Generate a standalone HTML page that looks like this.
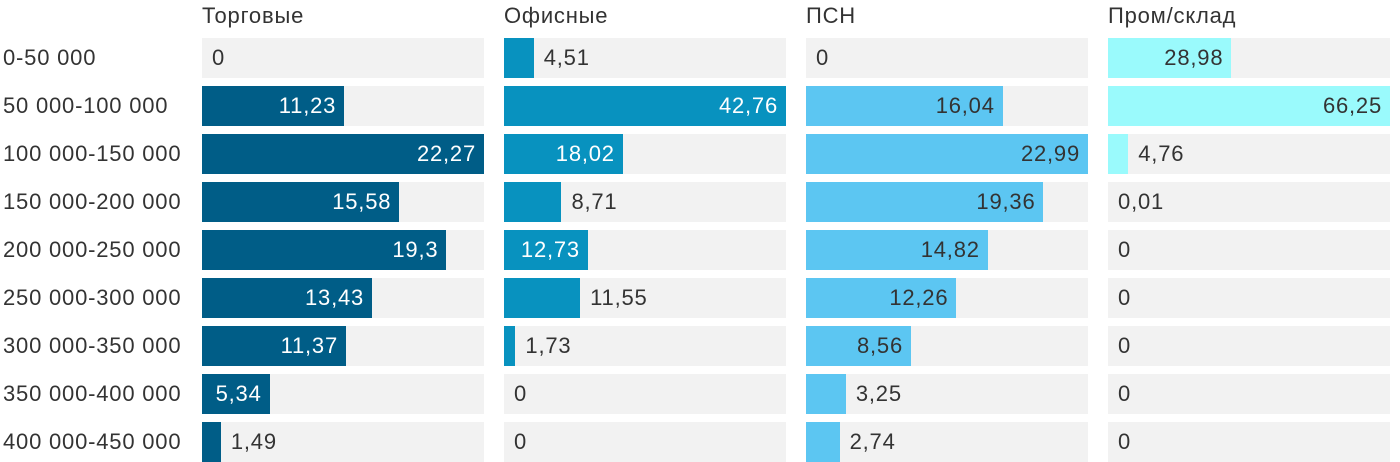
<!DOCTYPE html>
<html><head><meta charset="utf-8"><style>
body{margin:0;width:1400px;height:462px;background:#fff;font-family:"Liberation Sans",sans-serif;overflow:hidden;position:relative}
.t{position:absolute;font-size:22px;letter-spacing:0.8px;color:#333;white-space:nowrap;line-height:40px}
.h{position:absolute;font-size:22px;letter-spacing:0.8px;color:#333;top:1px;line-height:30px}
.tr{position:absolute;background:#f2f2f2;height:40px}
.b{position:absolute;left:0;top:0;height:40px}
</style></head><body>
<div id="root"></div>
<script>
const categories=["0-50 000","50 000-100 000","100 000-150 000","150 000-200 000","200 000-250 000","250 000-300 000","300 000-350 000","350 000-400 000","400 000-450 000"];
const panelTitles=["Торговые","Офисные","ПСН","Пром/склад"];
const seriesTrade=[0,11.23,22.27,15.58,19.3,13.43,11.37,5.34,1.49];
const seriesOffice=[4.51,42.76,18.02,8.71,12.73,11.55,1.73,0,0];
const seriesPsn=[0,16.04,22.99,19.36,14.82,12.26,8.56,3.25,2.74];
const seriesInd=[28.98,66.25,4.76,0.01,0,0,0,0,0];
const series=[seriesTrade,seriesOffice,seriesPsn,seriesInd];
const colors=["#005d87","#0892bf","#5cc6f2","#9afafc"];
const insideText=["#fff","#fff","#333","#333"];
const panelX=[202,504,806,1108],W=282,rowY0=38,rowStep=48;
const root=document.getElementById('root');
categories.forEach((c,i)=>{
 const d=document.createElement('div');d.className='t';d.style.left='3px';d.style.top=(rowY0+i*rowStep)+'px';d.textContent=c;
 
 
 root.appendChild(d);
});
series.forEach((vals,p)=>{
 const h=document.createElement('div');h.className='h';h.style.left=panelX[p]+'px';h.textContent=panelTitles[p];
 
 
 root.appendChild(h);
 const max=Math.max(...vals);
 vals.forEach((v,i)=>{
  const tr=document.createElement('div');tr.className='tr';
  tr.style.left=panelX[p]+'px';tr.style.top=(rowY0+i*rowStep)+'px';tr.style.width=W+'px';
  
  
  const w=v/max*W;
  const b=document.createElement('div');b.className='b';b.style.width=w+'px';b.style.background=colors[p];
  
  
  tr.appendChild(b);
  const lab=document.createElement('div');lab.className='t';lab.style.top='0';
  
  
  const s=String(v).replace('.',',');lab.textContent=s;
  const tw=s.length*11;
  const inside=w>=tw+16 && !(p===1&&v===11.55);
  if(inside){lab.style.right=(W-w+8)+'px';lab.style.color=insideText[p];}
  else{lab.style.left=(w+10)+'px';}
  tr.appendChild(lab);
  root.appendChild(tr);
 });
});
</script>
</body></html>
